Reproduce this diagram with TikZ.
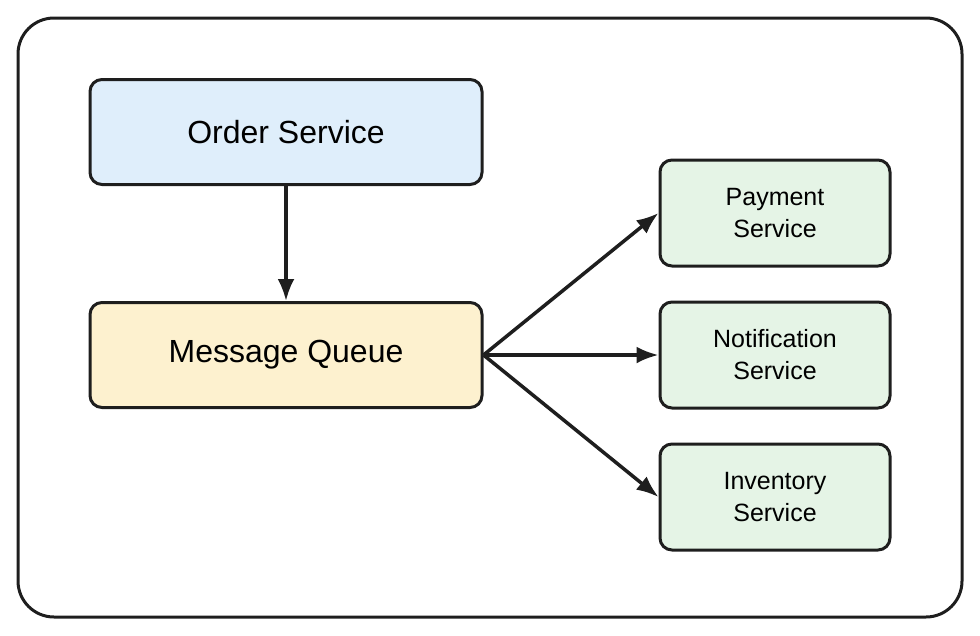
\documentclass[tikz,border=0pt]{standalone}
\usepackage{fontspec}
\setmainfont{Liberation Sans}
\usetikzlibrary{arrows.meta}
\definecolor{orderfill}{HTML}{DFEEFB}
\definecolor{queuefill}{HTML}{FDF1CF}
\definecolor{servfill}{HTML}{E5F4E6}
\definecolor{inkline}{HTML}{1E1E1E}
\tikzset{
  svcbig/.style={draw=inkline, line width=3pt, rounded corners=12pt,
    minimum width=392pt, minimum height=105pt, font=\fontsize{32}{36}\selectfont},
  svcsmall/.style={draw=inkline, line width=3pt, rounded corners=12pt, fill=servfill,
    minimum width=230pt, minimum height=106pt, align=center,
    font=\fontsize{25}{32}\selectfont},
  flow/.style={-{Latex[length=22pt,width=17pt]}, line width=3.5pt, draw=inkline}
}
\begin{document}
\begin{tikzpicture}[x=1pt, y=-1pt]
  \useasboundingbox (0, 0) rectangle (980, 635);
  \draw [line width=3pt, draw=inkline, rounded corners=36pt] (18, 18) rectangle (962, 617);

  \node [svcbig, fill=orderfill] (order) at (286, 132) {Order Service};
  \node [svcbig, fill=queuefill] (queue) at (286, 355) {Message Queue};

  \node [svcsmall] (payment) at (775, 213) {Payment\\Service};
  \node [svcsmall] (notify) at (775, 355) {Notification\\Service};
  \node [svcsmall] (inventory) at (775, 497) {Inventory\\Service};

  \draw [flow] (order) -- (queue);
  \draw [flow] (queue.east) -- (payment.west);
  \draw [flow] (queue.east) -- (notify.west);
  \draw [flow] (queue.east) -- (inventory.west);
\end{tikzpicture}
\end{document}
